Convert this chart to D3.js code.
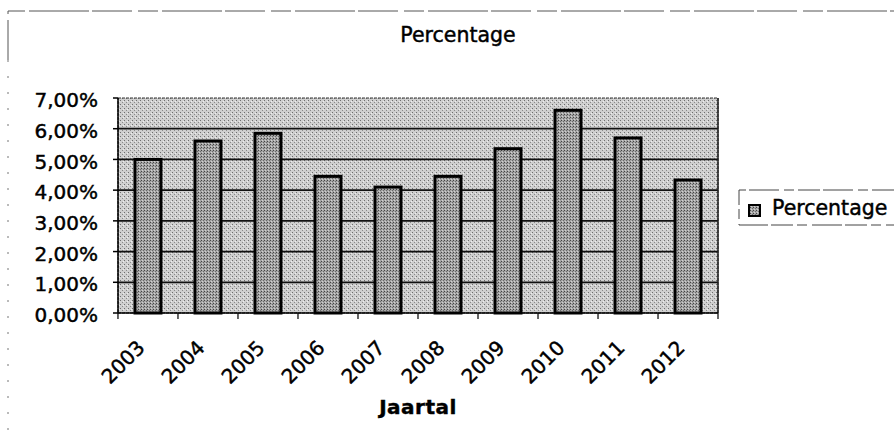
<!DOCTYPE html>
<html>
<head>
<meta charset="utf-8">
<script src="https://cdn.jsdelivr.net/npm/d3@7"></script>
<style>
  body { margin: 0; background: #fff; }
  text { font-family: "DejaVu Sans", sans-serif; fill: #000; stroke: #000; stroke-width: 0.45px; }
</style>
</head>
<body>
<div id="chart"></div>
<script>
var years = ["2003", "2004", "2005", "2006", "2007", "2008", "2009", "2010", "2011", "2012"];
var percentage = [0.050, 0.056, 0.0585, 0.0445, 0.041, 0.0445, 0.0535, 0.066, 0.057, 0.0433];
var yTicks = [0, 0.01, 0.02, 0.03, 0.04, 0.05, 0.06, 0.07];

var width = 894,
    height = 437;

var svg = d3.select("#chart")
  .append("svg")
  .attr("width", width)
  .attr("height", height);

var defs = svg.append("defs");

// halftone-ish fill for the scanned look
var pat = defs.append("pattern")
  .attr("id", "plotfill")
  .attr("width", 4).attr("height", 4)
  .attr("patternUnits", "userSpaceOnUse");
pat.append("rect").attr("width", 4).attr("height", 4).attr("fill", "#cfcfcf");
pat.append("rect").attr("x", 0).attr("y", 0).attr("width", 1).attr("height", 1).attr("fill", "#6e6e6e");
pat.append("rect").attr("x", 2).attr("y", 2).attr("width", 1).attr("height", 1).attr("fill", "#8a8a8a");
pat.append("rect").attr("x", 3).attr("y", 1).attr("width", 1).attr("height", 1).attr("fill", "#eeeeee");

var bpat = defs.append("pattern")
  .attr("id", "barfill")
  .attr("width", 3).attr("height", 3)
  .attr("patternUnits", "userSpaceOnUse");
bpat.append("rect").attr("width", 3).attr("height", 3).attr("fill", "#a6a6a6");
bpat.append("rect").attr("x", 0).attr("y", 0).attr("width", 1).attr("height", 1).attr("fill", "#444");
bpat.append("rect").attr("x", 2).attr("y", 1).attr("width", 1).attr("height", 1).attr("fill", "#6a6a6a");
bpat.append("rect").attr("x", 1).attr("y", 2).attr("width", 1).attr("height", 1).attr("fill", "#d0d0d0");

var plotL = 118, plotR = 718, plotT = 98, plotB = 313;

var x = d3.scaleBand()
  .domain(years)
  .range([plotL, plotR])
  .paddingInner(0.567)
  .paddingOuter(0.283);

var y = d3.scaleLinear()
  .domain([0, 0.07])
  .range([plotB, plotT]);

var nl = d3.formatLocale({decimal: ",", thousands: ".", grouping: [3], currency: ["", "€"]});
var fmt = nl.format(".2%");

// outer chart border (broken scan line)
svg.append("path")
  .attr("d", "M8,60 V11 H894")
  .attr("fill", "none")
  .attr("stroke", "#555")
  .attr("stroke-width", 1)
  .attr("stroke-dasharray", "40,6,20,4,60,3");
svg.append("line")
  .attr("x1", 8).attr("x2", 8).attr("y1", 60).attr("y2", 437)
  .attr("stroke", "#777").attr("stroke-dasharray", "2,14");

// plot area
svg.append("rect")
  .attr("x", plotL).attr("y", plotT)
  .attr("width", plotR - plotL).attr("height", plotB - plotT)
  .attr("fill", "url(#plotfill)")
  .attr("stroke", "#333")
  .attr("stroke-width", 1)
  .attr("stroke-dasharray", "3,1");

// gridlines
svg.selectAll(".grid")
  .data(yTicks.slice(1, -1))
  .enter().append("line")
  .attr("class", "grid")
  .attr("x1", plotL).attr("x2", plotR)
  .attr("y1", function(d) { return y(d); })
  .attr("y2", function(d) { return y(d); })
  .attr("stroke", "#111")
  .attr("stroke-width", 1.8);

svg.append("line")
  .attr("x1", plotR).attr("x2", plotR).attr("y1", plotT).attr("y2", plotB)
  .attr("stroke", "#222").attr("stroke-width", 1.5);

// bars
svg.selectAll(".bar")
  .data(percentage)
  .enter().append("rect")
  .attr("class", "bar")
  .attr("x", function(d, i) { return x(years[i]); })
  .attr("y", function(d) { return y(d); })
  .attr("width", x.bandwidth())
  .attr("height", function(d) { return y(0) - y(d); })
  .attr("fill", "url(#barfill)")
  .attr("stroke", "#000")
  .attr("stroke-width", 3);

// y axis
svg.append("line")
  .attr("x1", plotL).attr("x2", plotL).attr("y1", plotT).attr("y2", plotB)
  .attr("stroke", "#000").attr("stroke-width", 1.5);
svg.selectAll(".ytick")
  .data(yTicks)
  .enter().append("line")
  .attr("x1", plotL - 5).attr("x2", plotL)
  .attr("y1", function(d) { return y(d); })
  .attr("y2", function(d) { return y(d); })
  .attr("stroke", "#000").attr("stroke-width", 1.5);
svg.selectAll(".ylabel")
  .data(yTicks)
  .enter().append("text")
  .attr("x", 98)
  .attr("y", function(d) { return y(d) + 2; })
  .attr("dy", "0.36em")
  .attr("text-anchor", "end")
  .style("font-size", "20px")
  .text(function(d) { return fmt(d); });

// x axis
svg.append("line")
  .attr("x1", plotL).attr("x2", plotR).attr("y1", plotB).attr("y2", plotB)
  .attr("stroke", "#000").attr("stroke-width", 1.5);
var bounds = years.map(function(d) { return x(d) + x.bandwidth() / 2 - x.step() / 2; });
bounds.push(plotR);
svg.selectAll(".xtick")
  .data(bounds)
  .enter().append("line")
  .attr("x1", function(d) { return d; })
  .attr("x2", function(d) { return d; })
  .attr("y1", plotB).attr("y2", plotB + 6)
  .attr("stroke", "#000").attr("stroke-width", 1.2);
svg.selectAll(".xlabel")
  .data(years)
  .enter().append("text")
  .attr("transform", function(d) {
    return "translate(" + (x(d) + x.bandwidth() / 2 - 2) + ",349) rotate(-45)";
  })
  .attr("text-anchor", "end")
  .style("font-size", "20px")
  .text(function(d) { return d; });

// titles
svg.append("text")
  .attr("x", 458).attr("y", 42)
  .attr("text-anchor", "middle")
  .style("font-size", "20.5px")
  .text("Percentage");

svg.append("text")
  .attr("x", 418).attr("y", 414)
  .attr("text-anchor", "middle")
  .style("font-size", "20px")
  .style("font-weight", "bold")
  .style("letter-spacing", "0.5px")
  .text("Jaartal");

// legend
var lg = svg.append("g");
lg.append("path")
  .attr("d", "M894,190 H739 V225 H894")
  .attr("fill", "#fff")
  .attr("stroke", "#444")
  .attr("stroke-width", 1)
  .attr("stroke-dasharray", "22,4,10,5,30,3");
lg.append("rect")
  .attr("x", 749).attr("y", 205).attr("width", 11).attr("height", 11)
  .attr("fill", "url(#barfill)")
  .attr("stroke", "#000").attr("stroke-width", 2);
lg.append("text")
  .attr("x", 772).attr("y", 215)
  .style("font-size", "20.5px")
  .text("Percentage");
</script>
</body>
</html>
